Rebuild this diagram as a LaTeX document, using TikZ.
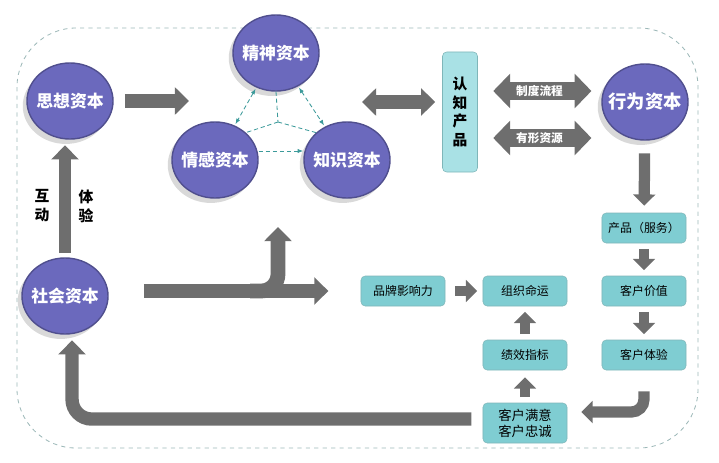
\documentclass[tikz,border=0pt]{standalone}
\usepackage{fontspec}
\setmainfont{Noto Sans CJK SC}
\usetikzlibrary{shapes,arrows.meta,shadows}

\definecolor{capblue}{HTML}{6B69BD}
\definecolor{boxcyan}{HTML}{7FCDD2}
\definecolor{lightcyan}{HTML}{A9E1E5}
\definecolor{arrowgray}{HTML}{6E6E6E}
\definecolor{framegray}{HTML}{9DB8B8}
\definecolor{dashteal}{HTML}{3C9A9A}

\newcommand{\captext}[1]{\makebox[0pt]{#1}}

\begin{document}
\begin{tikzpicture}[x=0.025cm, y=-0.025cm,
  capital/.style={ellipse, fill=capblue, draw=capblue!75!black, line width=1pt,
    inner sep=0pt, minimum width=2.15cm, minimum height=1.9cm, text=white,
    font=\bfseries\fontsize{12}{14}\selectfont,
    drop shadow={shadow xshift=-3pt, shadow yshift=-3.5pt, opacity=0.3}},
  box/.style={rectangle, rounded corners=3pt, fill=boxcyan, draw=boxcyan!70!gray,
    minimum width=2.1cm, minimum height=0.75cm, font=\fontsize{8.5}{10}\selectfont},
  fat/.style={draw=arrowgray, line width=10.5pt, -{Triangle[width=19pt,length=10pt]}},
  smallarrow/.style={draw=arrowgray, line width=7pt, -{Triangle[width=15.5pt,length=8pt]}},
  dbl/.style={draw=arrowgray, line width=10.5pt,
    {Triangle[width=19pt,length=10pt]}-{Triangle[width=19pt,length=10pt]}},
  widedbl/.style={draw=arrowgray, line width=12.8pt,
    {Triangle[width=24pt,length=12pt]}-{Triangle[width=24pt,length=12pt]}},
  tealdash/.style={draw=dashteal, densely dashed, line width=0.6pt}]

\useasboundingbox (0,0) rectangle (719,462);
\draw [framegray, dashed, line width=0.6pt, rounded corners=42pt] (17,28) rectangle (698,448);

\node[capital] (sixiang) at (70,101) {\captext{思想资本}};
\node[capital] (jingshen) at (276,53) {\captext{精神资本}};
\node[capital] (qinggan) at (215,160) {\captext{情感资本}};
\node[capital] (zhishi) at (347,160) {\captext{知识资本}};
\node[capital, font=\bfseries\fontsize{13}{15}\selectfont] (xingwei) at (645,102) {\captext{行为资本}};
\node[capital] (shehui) at (65,296) {\captext{社会资本}};

\node[rectangle, rounded corners=3pt, fill=lightcyan, draw=boxcyan!70!gray,
  minimum width=0.875cm, minimum height=3cm, align=center,
  font=\bfseries\fontsize{10.5}{13.2}\selectfont] (renzhi) at (460,112) {认\\知\\产\\品};

\node[box] (chanpin) at (644,228) {产品（服务）};
\node[box] (jiazhi) at (644,291) {客户价值};
\node[box] (tiyan) at (644,355) {客户体验};
\node[box, minimum height=1cm, align=center, font=\fontsize{9.5}{11.5}\selectfont] (manyi) at (525,423) {客户满意\\客户忠诚};
\node[box] (jixiao) at (525,355) {绩效指标};
\node[box] (zuzhi) at (525,291) {组织命运};
\node[box] (pinpai) at (403,291) {品牌影响力};

\node[align=center, font=\bfseries\fontsize{10.5}{13.5}\selectfont] (hudong) at (42,206) {互\\动};
\node[align=center, font=\bfseries\fontsize{10.5}{13.5}\selectfont] (tiyantxt) at (86,206) {体\\验};

\coordinate (tri) at (189,101);
\coordinate (grp) at (362,102);
\coordinate (hub) at (278,122);
\coordinate (fork) at (250,292);
\coordinate (up) at (278,227);

\draw [tealdash] (jingshen.south) -- (hub);
\draw [tealdash] (hub) -- (qinggan.north east);
\draw [tealdash] (hub) -- (zhishi.north west);
\draw [tealdash, {Latex[length=4pt]}-{Latex[length=4pt]}, shorten <=1pt, shorten >=1pt] (jingshen) -- (qinggan);
\draw [tealdash, {Latex[length=4pt]}-{Latex[length=4pt]}, shorten <=1pt, shorten >=1pt] (jingshen) -- (zhishi);
\draw [tealdash, -{Latex[length=4pt]}] (qinggan.east |- 0,151) -- (zhishi.west |- 0,151);

\draw [fat, shorten <=8pt] (sixiang) -- (tri);
\draw [dbl, shorten >=5pt] (grp) -- (renzhi.west |- grp);
\draw [widedbl, shorten <=11pt, shorten >=7pt] (renzhi.east |- 0,91) -- (xingwei.west |- 0,91)
  node [midway, text=white, font=\bfseries\fontsize{8.3}{10}\selectfont] {制度流程};
\draw [widedbl, shorten <=11pt, shorten >=7pt] (renzhi.east |- 0,138) -- (xingwei.west |- 0,138)
  node [midway, text=white, font=\bfseries\fontsize{8.3}{10}\selectfont] {有形资源};

\draw [smallarrow, line width=8pt, shorten <=9pt, shorten >=5pt] (xingwei) -- (chanpin);
\draw [smallarrow, shorten <=4pt, shorten >=4pt] (chanpin) -- (jiazhi);
\draw [smallarrow, shorten <=4pt, shorten >=4pt] (jiazhi) -- (tiyan);
\draw [smallarrow, line width=8pt, rounded corners=9pt, shorten <=15pt, shorten >=10pt]
  (tiyan.south) |- ([yshift=7.8pt]manyi.east);
\draw [smallarrow, shorten <=4pt, shorten >=5pt] (manyi) -- (jixiao);
\draw [smallarrow, shorten <=4pt, shorten >=4pt] (jixiao) -- (zuzhi);
\draw [smallarrow, shorten <=7pt, shorten >=4pt] (pinpai) -- (zuzhi);

\draw [fat, line width=9.5pt, rounded corners=14pt, shorten <=8pt, shorten >=4pt]
  ([yshift=2.8pt]manyi.west) -| ([xshift=5pt]shehui.south);
\draw [fat, line width=9pt, shorten <=3pt, shorten >=4pt] (shehui.north) -- (shehui.north |- sixiang.south);
\draw [fat, shorten <=25pt, shorten >=23pt] (shehui.east |- pinpai) -- (pinpai.west);
\draw [fat, rounded corners=12pt] (fork |- pinpai) -| (up);
\end{tikzpicture}
\end{document}
